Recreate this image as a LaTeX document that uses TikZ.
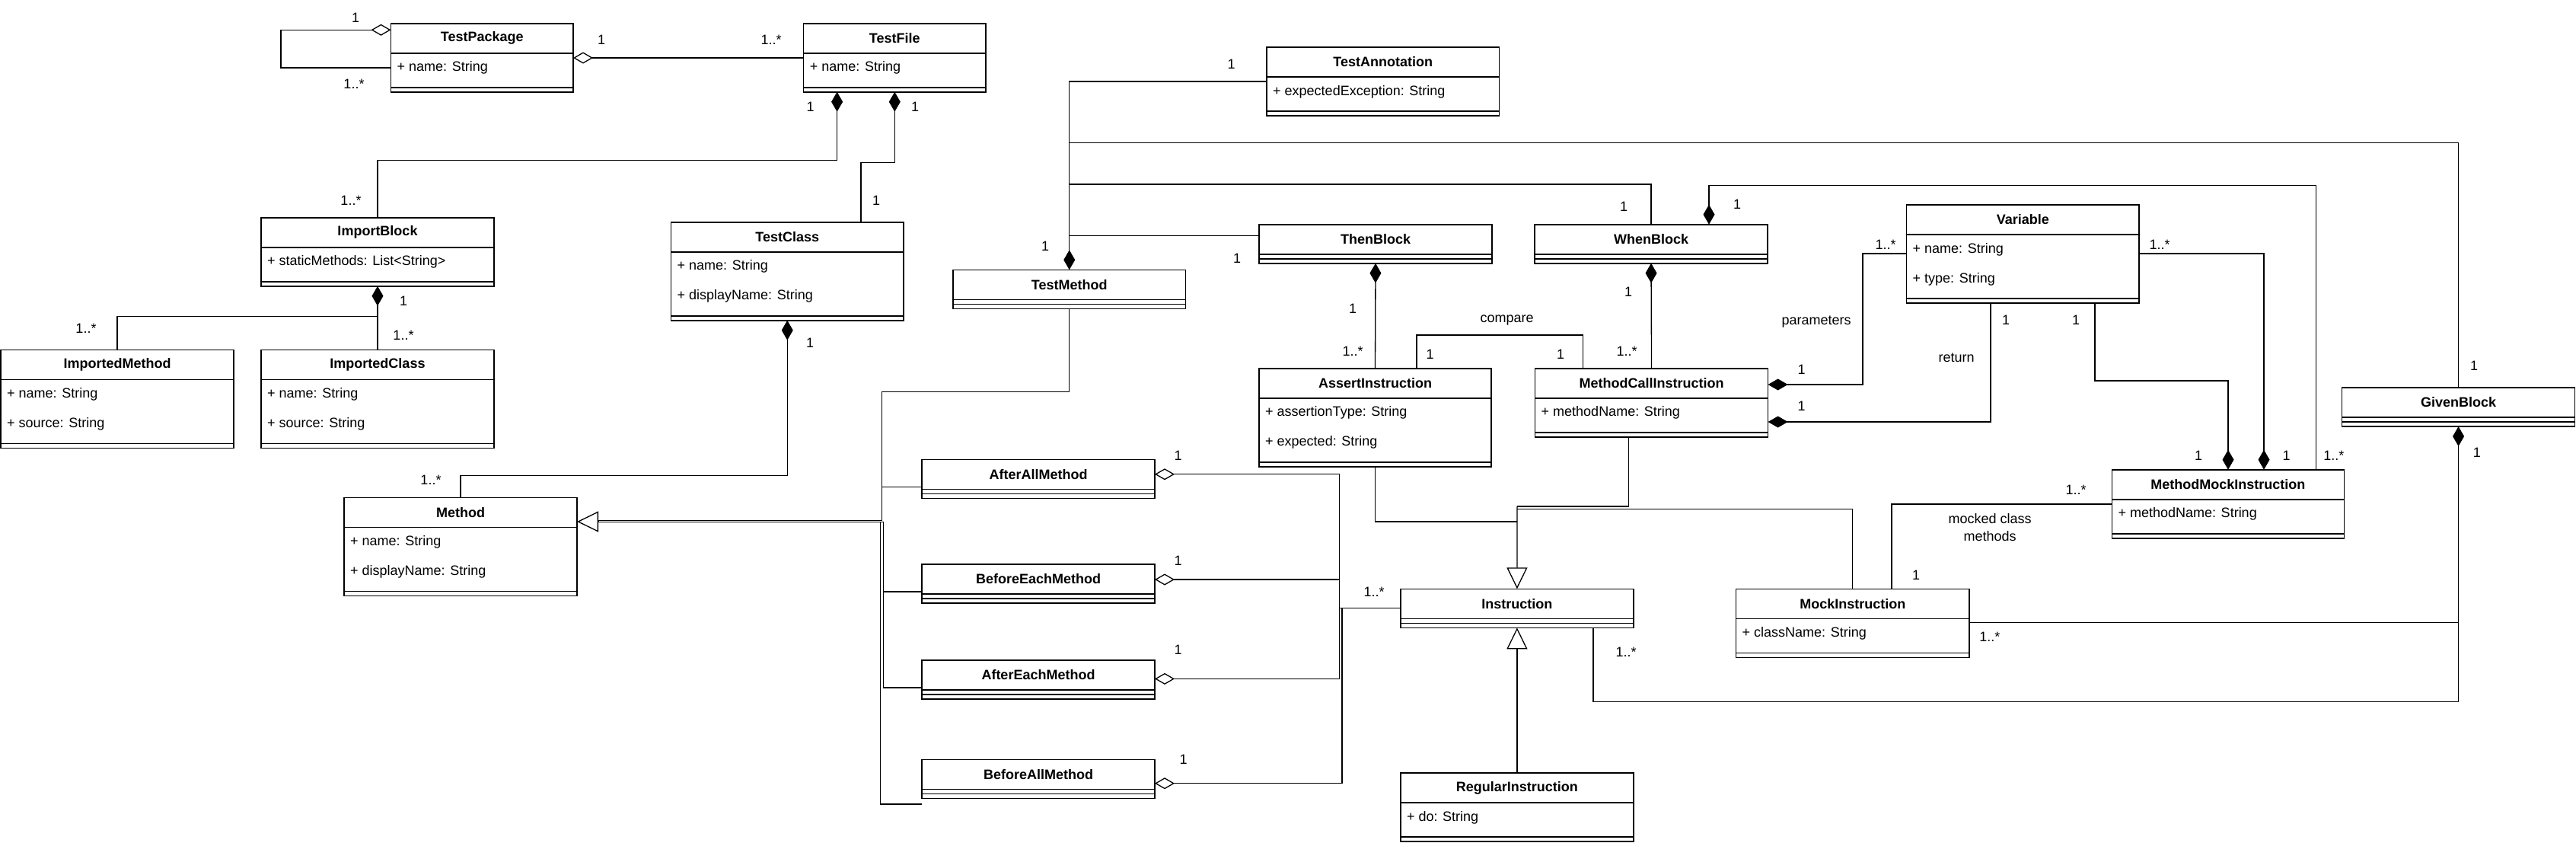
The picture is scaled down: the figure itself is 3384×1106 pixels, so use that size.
\documentclass[tikz,border=0pt]{standalone}
\usepackage{fontspec}
\setmainfont{Liberation Sans}
\usetikzlibrary{arrows.meta}
\tikzset{
  box/.style={draw, line width=1.6pt, inner sep=0pt, outer sep=0pt, anchor=north west, fill=white},
  sep/.style={line width=1.6pt},
  conn/.style={line width=1.3pt},
  lbl/.style={font=\fontsize{18}{20}\selectfont, inner sep=0pt},
  ttl/.style={font=\bfseries\fontsize{18}{20}\selectfont, inner sep=0pt},
  attr/.style={font=\fontsize{18}{20}\selectfont, inner sep=0pt, anchor=west},
  comp/.style={{Diamond[length=26pt,width=15pt]}-},
  compend/.style={-{Diamond[length=26pt,width=15pt]}},
  aggr/.style={{Diamond[open,length=26pt,width=15pt]}-},
  gen/.style={-{Triangle[open,length=28pt,width=27pt]}},
}
\newcommand\uclass[6]{%
  \pgfmathsetmacro\uW{#4-#2}%
  \pgfmathsetmacro\uH{51+39*#5}%
  \node[box, minimum width=\uW pt, minimum height=\uH pt] (#1) at (#2,#3) {};
  \pgfmathsetmacro\uA{#3+39}%
  \pgfmathsetmacro\uB{#3+45+39*#5}%
  \draw[sep] (#2,\uA) -- (#4,\uA);
  \draw[sep] (#2,\uB) -- (#4,\uB);
  \pgfmathsetmacro\uC{(#2+#4)/2}%
  \pgfmathsetmacro\uD{#3+19.5}%
  \node[ttl] (#1-t) at (\uC,\uD) {#6};
}
\newcommand\uattr[5]{%
  \pgfmathsetmacro\uE{#3+58.5+39*#4}%
  \pgfmathsetmacro\uF{#2+8}%
  \node[attr] (#1-a#4) at (\uF,\uE) {#5};
}
\begin{document}
\begin{tikzpicture}[x=1pt,y=-1pt]
\useasboundingbox (0,0) rectangle (3384,1106);
\fill[white] (0,0) rectangle (3384,1106);

% classes
\uclass{TestPackage}{513.5}{30.7}{753}{1}{TestPackage}
\uattr{TestPackage}{513.5}{30.7}{0}{+ name: String}
\uclass{TestFile}{1055.6}{30.7}{1295}{1}{TestFile}
\uattr{TestFile}{1055.6}{30.7}{0}{+ name: String}
\uclass{ImportBlock}{343}{285.7}{649}{1}{ImportBlock}
\uattr{ImportBlock}{343}{285.7}{0}{+ staticMethods: List<String>}
\uclass{ImportedMethod}{1}{459.3}{307}{2}{ImportedMethod}
\uattr{ImportedMethod}{1}{459.3}{0}{+ name: String}
\uattr{ImportedMethod}{1}{459.3}{1}{+ source: String}
\uclass{ImportedClass}{343}{459.3}{649}{2}{ImportedClass}
\uattr{ImportedClass}{343}{459.3}{0}{+ name: String}
\uattr{ImportedClass}{343}{459.3}{1}{+ source: String}
\uclass{TestClass}{881.5}{291.7}{1187}{2}{TestClass}
\uattr{TestClass}{881.5}{291.7}{0}{+ name: String}
\uattr{TestClass}{881.5}{291.7}{1}{+ displayName: String}
\uclass{Method}{452}{653.3}{758}{2}{Method}
\uattr{Method}{452}{653.3}{0}{+ name: String}
\uattr{Method}{452}{653.3}{1}{+ displayName: String}
\uclass{TestAnnotation}{1664}{62}{1969.6}{1}{TestAnnotation}
\uattr{TestAnnotation}{1664}{62}{0}{+ expectedException: String}
\uclass{TestMethod}{1252}{354.3}{1557.5}{0}{TestMethod}
\uclass{ThenBlock}{1654}{294.7}{1960}{0}{ThenBlock}
\uclass{WhenBlock}{2016}{294.7}{2322}{0}{WhenBlock}
\uclass{Variable}{2504.5}{269}{2810}{2}{Variable}
\uattr{Variable}{2504.5}{269}{0}{+ name: String}
\uattr{Variable}{2504.5}{269}{1}{+ type: String}
\uclass{AssertInstruction}{1654}{483.7}{1959}{2}{AssertInstruction}
\uattr{AssertInstruction}{1654}{483.7}{0}{+ assertionType: String}
\uattr{AssertInstruction}{1654}{483.7}{1}{+ expected: String}
\uclass{MethodCallInstruction}{2016.5}{483.7}{2322.6}{1}{MethodCallInstruction}
\uattr{MethodCallInstruction}{2016.5}{483.7}{0}{+ methodName: String}
\uclass{GivenBlock}{3076.6}{509}{3382.5}{0}{GivenBlock}
\uclass{MethodMockInstruction}{2774.3}{616.7}{3079.5}{1}{MethodMockInstruction}
\uattr{MethodMockInstruction}{2774.3}{616.7}{0}{+ methodName: String}
\uclass{MockInstruction}{2280.5}{773.3}{2587}{1}{MockInstruction}
\uattr{MockInstruction}{2280.5}{773.3}{0}{+ className: String}
\uclass{Instruction}{1839.8}{773.3}{2146}{0}{Instruction}
\uclass{RegularInstruction}{1839.8}{1015}{2146}{1}{RegularInstruction}
\uattr{RegularInstruction}{1839.8}{1015}{0}{+ do: String}
\uclass{AfterAllMethod}{1211}{603.4}{1517}{0}{AfterAllMethod}
\uclass{BeforeEachMethod}{1211}{741}{1517}{0}{BeforeEachMethod}
\uclass{AfterEachMethod}{1211}{867}{1517}{0}{AfterEachMethod}
\uclass{BeforeAllMethod}{1211}{997.6}{1517}{0}{BeforeAllMethod}

% connectors
\draw[conn, aggr] (TestPackage.west |- 0,39.3) -| (369,89) -- (TestPackage.west |- 0,89);
\draw[conn, aggr] (TestPackage.east |- 0,76) -- (TestFile.west |- 0,76);
\draw[conn, comp] (1099.6,0 |- TestFile.south) -- (1099.6,210.7) -| (ImportBlock.north);
\draw[conn, comp] (TestFile.south) |- (1131,213.3) -- (1131,0 |- TestClass.north);
\draw[conn, comp] (ImportBlock.south) -- (ImportedClass.north);
\draw[conn] (ImportBlock.south |- 0,415.7) -| (ImportedMethod.north);
\draw[conn, comp] (TestClass.south) |- (Method.north |- 0,624.3) -- (Method.north);

% generalizations to Method
\draw[conn] (TestMethod.south) |- (1158.7,514.75) -- (1158.7,683.5) -- (786,683.5);
\draw[conn] (AfterAllMethod.west |- 0,639.4) -- (1158.7,639.4);
\draw[conn] (BeforeEachMethod.west |- 0,777) -| (1160.6,685.75) -- (786,685.75);
\draw[conn] (AfterEachMethod.west |- 0,903) -| (1160.6,777);
\draw[conn] (BeforeAllMethod.west |- 0,1056) -| (1156.8,685);
\draw[conn, gen] (786,685) -- (Method.east |- 0,685);

% TestMethod associations
\draw[conn, compend] (TestAnnotation.west |- 0,107) -| (TestMethod.north);
\draw[conn] (TestMethod.north |- 0,187.7) -| (GivenBlock.north);
\draw[conn] (TestMethod.north |- 0,242) -| (WhenBlock.north);
\draw[conn] (TestMethod.north |- 0,309.7) -- (ThenBlock.west |- 0,309.7);

\draw[conn, comp] (ThenBlock.south) -- (AssertInstruction.north);
\draw[conn] (1861,0 |- AssertInstruction.north) |- (2079.6,440) -- (2079.6,0 |- MethodCallInstruction.north);
\draw[conn, comp] (WhenBlock.south) -- (MethodCallInstruction.north);
\draw[conn, comp] (MethodCallInstruction.east |- 0,505) -| (2447,333) -- (Variable.west |- 0,333);
\draw[conn, comp] (MethodCallInstruction.east |- 0,554) -| (2615,0 |- Variable.south);
\draw[conn, compend] (2752,0 |- Variable.south) |- (2927,500) -- (2927,0 |- MethodMockInstruction.north);
\draw[conn, compend] (Variable.east |- 0,333) -| (2974,0 |- MethodMockInstruction.north);
\draw[conn, comp] (2245,0 |- WhenBlock.north) |- (3042.6,243.3) -- (3042.6,0 |- MethodMockInstruction.north);
\draw[conn] (2485,0 |- MockInstruction.north) |- (MethodMockInstruction.west |- 0,662);

% generalizations to Instruction
\draw[conn] (AssertInstruction.south) |- (1993,685);
\draw[conn] (2139.6,0 |- MethodCallInstruction.south) |- (1993,665);
\draw[conn] (MockInstruction.north) |- (1993,668.3);
\draw[conn, gen] (1993,665) -- (Instruction.north);
\draw[conn, gen] (RegularInstruction.north) -- (Instruction.south);

% aggregations to Instruction
\draw[conn, aggr] (AfterAllMethod.east |- 0,622.75) -| (1759.5,891.4);
\draw[conn, aggr] (BeforeEachMethod.east |- 0,761) -- (1759.5,761);
\draw[conn, aggr] (AfterEachMethod.east |- 0,891.4) -- (1759.5,891.4);
\draw[conn, aggr] (BeforeAllMethod.east |- 0,1028.7) -| (1763,798.3);
\draw[conn] (1759.5,798.3) -- (Instruction.west |- 0,798.3);

% GivenBlock
\draw[conn, comp] (GivenBlock.south) |- (2093,921.7) -- (2093,0 |- Instruction.south);
\draw[conn] (MockInstruction.east |- 0,817.7) -- (GivenBlock.south |- 0,817.7);

% labels
\foreach \x/\y/\t [count=\i] in {
 467/23/1, 465/110/1..*,
 790/52/1, 1013/52/1..*,
 1064.5/140/1, 1202/140/1,
 461/263/1..*, 1151/263/1,
 530/395/1, 113/431.7/1..*, 530/440/1..*,
 1064/450/1, 566/630/1..*,
 1617.5/84/1, 1373/323/1, 1625/339/1,
 3250/480/1,
 2133/271.7/1, 2282/268/1,
 1777/405/1, 1777/461/1..*,
 1979.5/420.7/compare, 1878.7/465/1, 2050/465/1,
 2139/383/1, 2137/461.7/1..*,
 2366.6/485.7/1, 2477/321.7/1..*, 2386/422.3/parameters,
 2366.6/533.3/1, 2635/420/1, 2570/470/return,
 2727/420/1, 2888/598/1,
 2837/321.7/1..*, 3003.6/598/1,
 3065.8/598/1..*,
 2517/755/1, 2727/643.3/1..*, 2614/681/mocked class, 2614/704/methods,
 1547.7/598/1, 1547.7/736.6/1, 1547.7/853.6/1, 1554.7/997.6/1, 1805/777/1..*,
 3253.8/594.3/1, 2136/856.7/1..*, 2613.8/836.7/1..*}
 \node[lbl] (lab\i) at (\x,\y) {\t};
\end{tikzpicture}
\end{document}
